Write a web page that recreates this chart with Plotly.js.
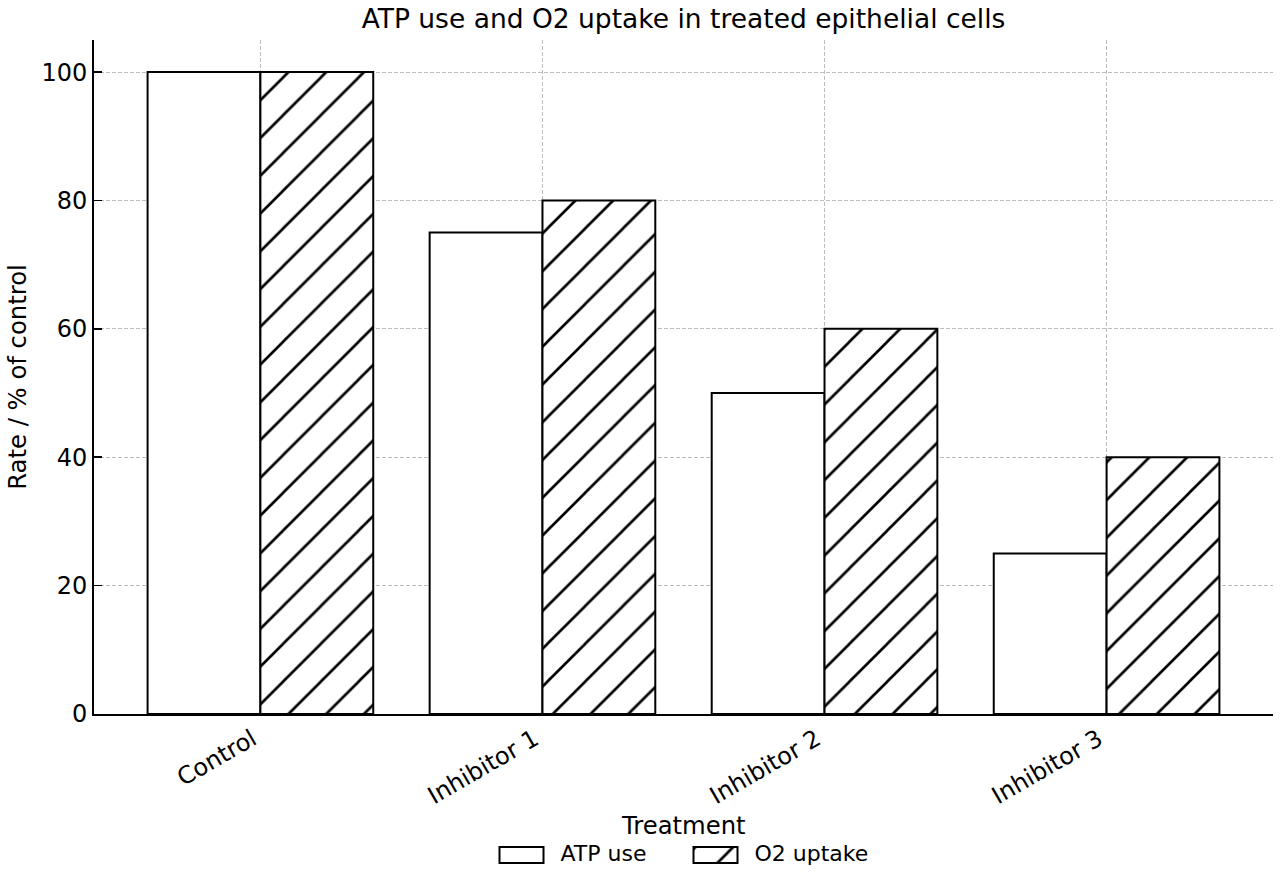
<!DOCTYPE html>
<html>
<head>
<meta charset="utf-8">
<script src="https://cdn.plot.ly/plotly-3.0.1.min.js"></script>
<style>
  html, body { margin: 0; padding: 0; background: #ffffff; }
  #chart { width: 1280px; height: 880px; }
</style>
</head>
<body>
<div id="chart"></div>
<script>
// Treatments and rates, as percentage of the control condition
const treatments = ["Control", "Inhibitor 1", "Inhibitor 2", "Inhibitor 3"];
const atpUse = [100, 75, 50, 25];
const o2Uptake = [100, 80, 60, 40];
const yTicks = [0, 20, 40, 60, 80, 100];

const FONT = "DejaVu Sans, sans-serif";
const xIdx = treatments.map((_, i) => i);

const traces = [
  {
    type: "bar",
    name: "ATP use",
    x: xIdx,
    y: atpUse,
    marker: { color: "#ffffff", line: { color: "#000000", width: 2 } }
  },
  {
    type: "bar",
    name: "O2 uptake",
    x: xIdx,
    y: o2Uptake,
    marker: {
      color: "#ffffff",
      line: { color: "#000000", width: 2 },
      pattern: { shape: "/", size: 26.7, solidity: 0.1, fgcolor: "#000000", bgcolor: "#ffffff", fillmode: "replace" }
    }
  }
];

const gridDash = "4px,2px";
const plotTop = 40, plotBottom = 714;

const layout = {
  width: 1280,
  height: 880,
  paper_bgcolor: "#ffffff",
  plot_bgcolor: "#ffffff",
  margin: { l: 94, r: 7, t: plotTop, b: 880 - plotBottom },
  font: { family: FONT, color: "#000000", size: 24 },
  title: {
    text: "ATP use and O2 uptake in treated epithelial cells",
    font: { family: FONT, size: 26.5, color: "#000000" },
    x: 0.5, xref: "paper", xanchor: "center",
    y: 1, yref: "paper", yanchor: "bottom", pad: { b: 12 }
  },
  barmode: "group",
  bargap: 0.2,
  bargroupgap: 0,
  xaxis: {
    range: [-0.59, 3.59],
    tickmode: "array",
    tickvals: xIdx,
    ticktext: treatments,
    tickangle: -30,
    ticklabelshift: -8,
    ticks: "inside",
    ticklen: 8,
    tickwidth: 1.5,
    tickcolor: "#000000",
    tickfont: { family: FONT, size: 24 },
    showline: true,
    linecolor: "#000000",
    linewidth: 2,
    showgrid: true,
    gridcolor: "#bdbdbd",
    griddash: gridDash,
    gridwidth: 1,
    zeroline: false,
    automargin: false
  },
  yaxis: {
    range: [0, 105],
    tickmode: "array",
    tickvals: yTicks,
    ticks: "inside",
    ticklen: 8,
    tickwidth: 1.5,
    tickcolor: "#000000",
    tickfont: { family: FONT, size: 24 },
    showline: true,
    linecolor: "#000000",
    linewidth: 2,
    showgrid: true,
    gridcolor: "#bdbdbd",
    griddash: gridDash,
    gridwidth: 1,
    zeroline: false,
    automargin: false,
    title: { text: "Rate / % of control", font: { family: FONT, size: 24.3 }, standoff: 8 }
  },
  // x-axis title, placed just under the slanted category labels
  annotations: [
    {
      text: "Treatment",
      xref: "paper", x: 0.5, xanchor: "center",
      yref: "paper", y: -(825 - plotBottom) / (plotBottom - plotTop), yanchor: "middle",
      showarrow: false,
      font: { family: FONT, size: 24.3, color: "#000000" }
    }
  ],
  legend: {
    orientation: "h",
    x: 0.5 + 17 / 1179, xanchor: "center", xref: "paper",
    y: 1 - 853 / 880, yanchor: "middle", yref: "container",
    font: { family: FONT, size: 22 },
    itemwidth: 44,
    entrywidth: 135,
    entrywidthmode: "pixels",
    bgcolor: "rgba(0,0,0,0)"
  },
  showlegend: true
};

// Widen the legend keys into 44x16 boxes ending 17px left of their labels,
// filled the same way as the bars they stand for
function reshapeLegendKeys() {
  document.querySelectorAll(".legend [clip-path]").forEach(el => el.removeAttribute("clip-path"));
  const barFills = Array.from(document.querySelectorAll(".barlayer .trace")).map(tr => {
    const p = tr.querySelector("path");
    return p ? p.style.fill || p.getAttribute("fill") : null;
  });
  document.querySelectorAll(".legend .traces").forEach((item, i) => {
    const txt = item.querySelector("text.legendtext");
    if (!txt) return;
    const box = txt.getBoundingClientRect();
    const textMid = (box.top + box.bottom) / 2;
    item.querySelectorAll("g.legendpoints path").forEach(p => {
      const ctm = p.getScreenCTM();
      const right = (box.left - 17 - ctm.e) / ctm.a;
      const left = right - 44;
      const cy = (textMid + 1 - ctm.f) / ctm.d;
      p.setAttribute("d", `M${right},${cy + 8}H${left}V${cy - 8}H${right}Z`);
      if (barFills[i]) p.style.fill = barFills[i];
      p.style.strokeWidth = "2px";
      p.style.stroke = "#000000";
    });
  });
}

Plotly.newPlot("chart", traces, layout, { displayModeBar: false, staticPlot: true })
  .then(reshapeLegendKeys);
</script>
</body>
</html>
